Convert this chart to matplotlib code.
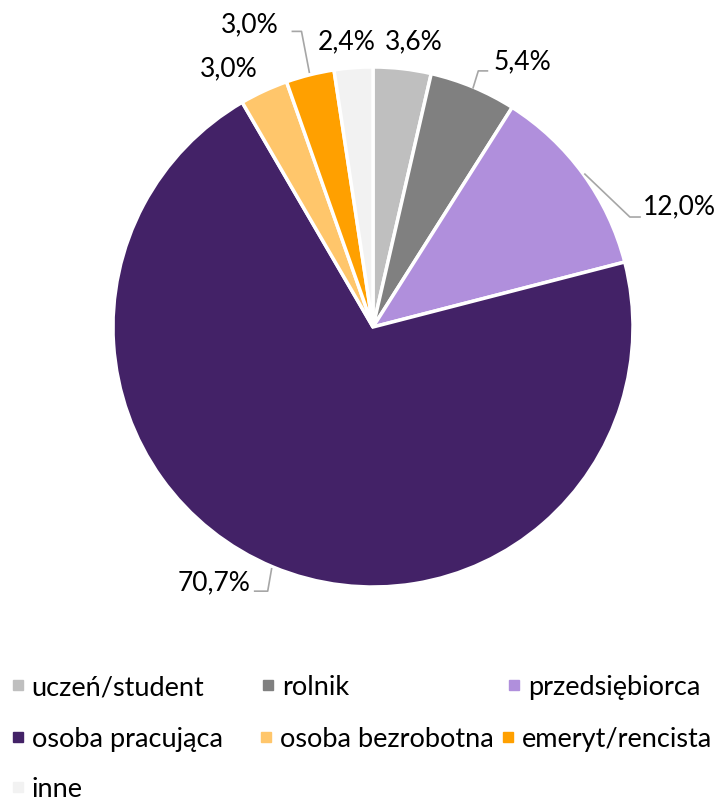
import matplotlib.pyplot as plt
from matplotlib.lines import Line2D

plt.rcParams['font.family'] = ['Lato', 'DejaVu Sans']

categories = ['uczeń/student', 'rolnik', 'przedsiębiorca', 'osoba pracująca',
              'osoba bezrobotna', 'emeryt/rencista', 'inne']
values = [3.6, 5.4, 12.0, 70.7, 3.0, 3.0, 2.4]
colors = ['#BFBFBF', '#808080', '#B08FDC', '#432267', '#FFC66B', '#FFA000', '#F2F2F2']
labels = ['3,6%', '5,4%', '12,0%', '70,7%', '3,0%', '3,0%', '2,4%']

W, H = 726, 803
fig = plt.figure(figsize=(W/100, H/100), dpi=100)
ax = fig.add_axes([113/W, 1 - 588/H, 520/W, 520/H])
ax.pie(values, colors=colors, startangle=90, counterclock=False,
       wedgeprops=dict(edgecolor='white', linewidth=2.5))
ax.set_xlim(-1, 1)
ax.set_ylim(-1, 1)
ax.set_aspect('equal')

# label positions (relative to radius)
lab_pos = [(0.155, 1.10), (0.575, 1.025), (1.18, 0.465), (-0.61, -0.98),
           (-0.554, 0.996), (-0.473, 1.165), (-0.10, 1.10)]
for txt, (x, y) in zip(labels, lab_pos):
    ax.text(x, y, txt, ha='center', va='center', fontsize=19, clip_on=False)

# leader lines
lead = [
    [(0.385, 0.92), (0.405, 0.985), (0.44, 0.985)],
    [(0.815, 0.588), (0.988, 0.423), (1.027, 0.423)],
    [(-0.39, -0.93), (-0.405, -1.016), (-0.455, -1.016)],
    [(-0.245, 0.98), (-0.275, 1.137), (-0.31, 1.137)],
]
for pts in lead:
    xs, ys = zip(*pts)
    ax.plot(xs, ys, color='#A6A6A6', lw=1.2, clip_on=False)

# legend entries, one per slot (marker centre in pixels)
leg_xy = [(18, 688), (268, 688), (514, 688), (18, 740), (266, 740), (508, 740), (18, 790)]
for i, (mx, my) in enumerate(leg_xy):
    h = Line2D([], [], marker='s', ls='', color=colors[i], markersize=7.5)
    fig.legend([h], [categories[i]], loc='center left',
               bbox_to_anchor=((mx - 8)/W, 1 - my/H), frameon=False,
               fontsize=19.5, handlelength=0.58, handletextpad=0.22, borderpad=0,
               borderaxespad=0)

fig.savefig('out.png', dpi=100)
